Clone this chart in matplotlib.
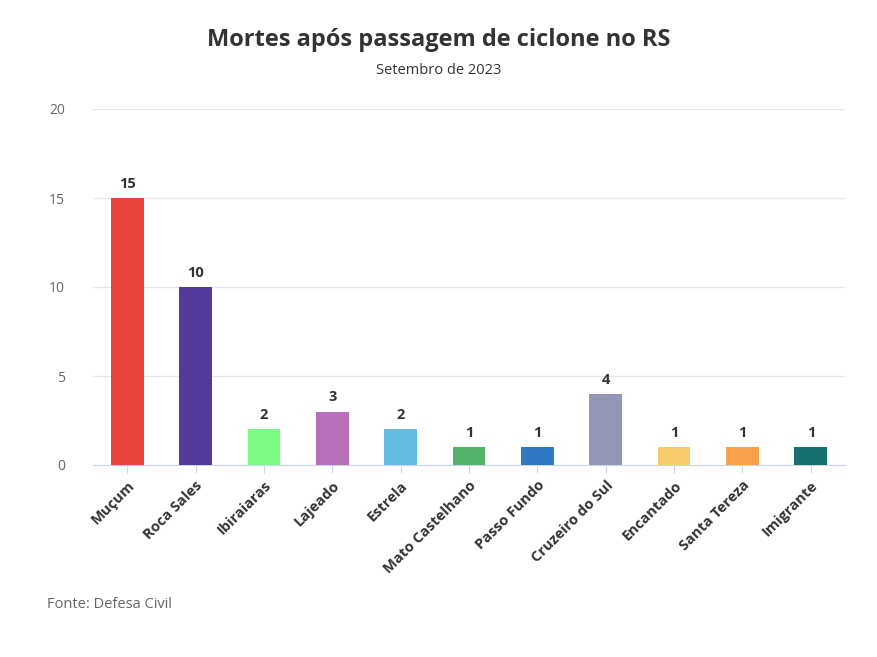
import matplotlib.pyplot as plt

cidades = ["Muçum", "Roca Sales", "Ibiraiaras", "Lajeado", "Estrela", "Mato Castelhano",
           "Passo Fundo", "Cruzeiro do Sul", "Encantado", "Santa Tereza", "Imigrante"]
mortes = [15, 10, 2, 3, 2, 1, 1, 4, 1, 1, 1]
cores = ["#e8453c", "#52399b", "#7cfc84", "#b86fb9", "#64bde0", "#52b36b",
         "#2f78c4", "#9396b5", "#f7cd6c", "#f9a14a", "#17706e"]
yticks = [0, 5, 10, 15, 20]

plt.rcParams['font.family'] = ['Open Sans', 'DejaVu Sans']
fig = plt.figure(figsize=(8.77, 6.57), dpi=100)
ax = fig.add_axes([93 / 877, 1 - 465 / 657, 752 / 877, 356 / 657])

x = range(len(cidades))
ax.bar(x, mortes, width=0.48, color=cores, zorder=3)
for i, v in enumerate(mortes):
    ax.text(i, v + 0.4, str(v), ha='center', va='bottom', fontsize=10.5,
            fontweight='bold', color='#333333')

ax.set_xlim(-0.5, len(cidades) - 0.5)
ax.set_ylim(0, 20)
ax.set_yticks(yticks)
ax.tick_params(axis='y', length=0, labelsize=10, colors='#666666', pad=20)
ax.grid(axis='y', color='#e6e6e6', linewidth=1, zorder=0)
ax.set_xticks(list(x))
ax.set_xticklabels(cidades, rotation=45, ha='right', rotation_mode='anchor',
                   fontsize=10.5, fontweight='bold', color='#333333')
ax.tick_params(axis='x', length=6, color='#ccd6eb')
for s in ['top', 'right', 'left']:
    ax.spines[s].set_visible(False)
ax.spines['bottom'].set_color('#ccd6eb')

fig.text(0.5, 1 - 40 / 657, "Mortes após passagem de ciclone no RS", ha='center',
         va='center', fontsize=17, fontweight='bold', color='#333333')
fig.text(0.5, 1 - 71 / 657, "Setembro de 2023", ha='center', va='center',
         fontsize=10.5, color='#333333')
fig.text(47 / 877, 1 - 605 / 657, "Fonte: Defesa Civil", ha='left', va='center',
         fontsize=10.5, color='#666666')

fig.savefig("out.png", dpi=100)
